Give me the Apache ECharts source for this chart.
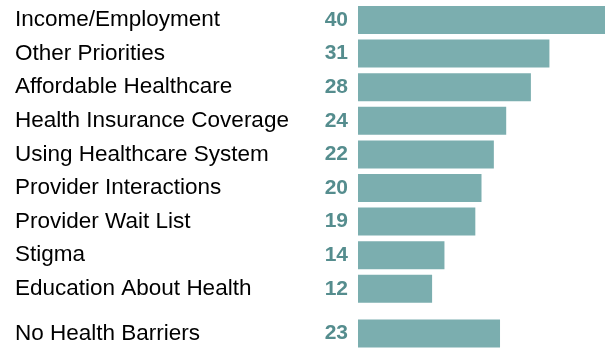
<!DOCTYPE html>
<html>
<head>
<meta charset="utf-8">
<script src="https://cdn.jsdelivr.net/npm/echarts@6/dist/echarts.min.js"></script>
<style>
  html, body { margin: 0; padding: 0; background: #ffffff; }
  #chart { width: 605px; height: 349px; }
</style>
</head>
<body>
<div id="chart"></div>
<script>
// Reported barriers to health (count of responses)
const barrierNames = [
  'Income/Employment',
  'Other Priorities',
  'Affordable Healthcare',
  'Health Insurance Coverage',
  'Using Healthcare System',
  'Provider Interactions',
  'Provider Wait List',
  'Stigma',
  'Education About Health'
];
const barrierValues = [40, 31, 28, 24, 22, 20, 19, 14, 12];

const noBarrierNames = ['No Health Barriers'];
const noBarrierValues = [23];

const axisMax = 40;

const BAR_COLOR = '#7BAEAF';
const VALUE_COLOR = '#558D8E';
const LABEL_FONT = '"Liberation Sans", Arial, sans-serif';

const plotLeft = 358;
const plotWidth = 250;
const textLeft = 15;

function categoryAxis(gridIndex, names) {
  return {
    type: 'category',
    gridIndex: gridIndex,
    data: names,
    inverse: true,
    axisLine: { show: false },
    axisTick: { show: false },
    axisLabel: {
      align: 'left',
      margin: plotLeft - textLeft,
      color: '#000000',
      fontFamily: LABEL_FONT,
      fontSize: 22.5
    }
  };
}

function valueAxis(gridIndex) {
  return {
    type: 'value',
    gridIndex: gridIndex,
    min: 0,
    max: axisMax,
    show: false
  };
}

function barSeries(index, values) {
  return {
    type: 'bar',
    xAxisIndex: index,
    yAxisIndex: index,
    data: values,
    barWidth: 28,
    itemStyle: { color: BAR_COLOR },
    silent: true,
    label: {
      show: true,
      position: 'left',
      distance: 10,
      color: VALUE_COLOR,
      fontFamily: LABEL_FONT,
      fontWeight: 'bold',
      fontSize: 21
    }
  };
}

const chart = echarts.init(document.getElementById('chart'), null, { renderer: 'canvas' });
chart.setOption({
  animation: false,
  backgroundColor: '#ffffff',
  grid: [
    { left: plotLeft, top: 3.2, width: plotWidth, height: 302.4 },
    { left: plotLeft, top: 318.2, width: plotWidth, height: 33.6 }
  ],
  xAxis: [valueAxis(0), valueAxis(1)],
  yAxis: [categoryAxis(0, barrierNames), categoryAxis(1, noBarrierNames)],
  series: [barSeries(0, barrierValues), barSeries(1, noBarrierValues)]
});
</script>
</body>
</html>
